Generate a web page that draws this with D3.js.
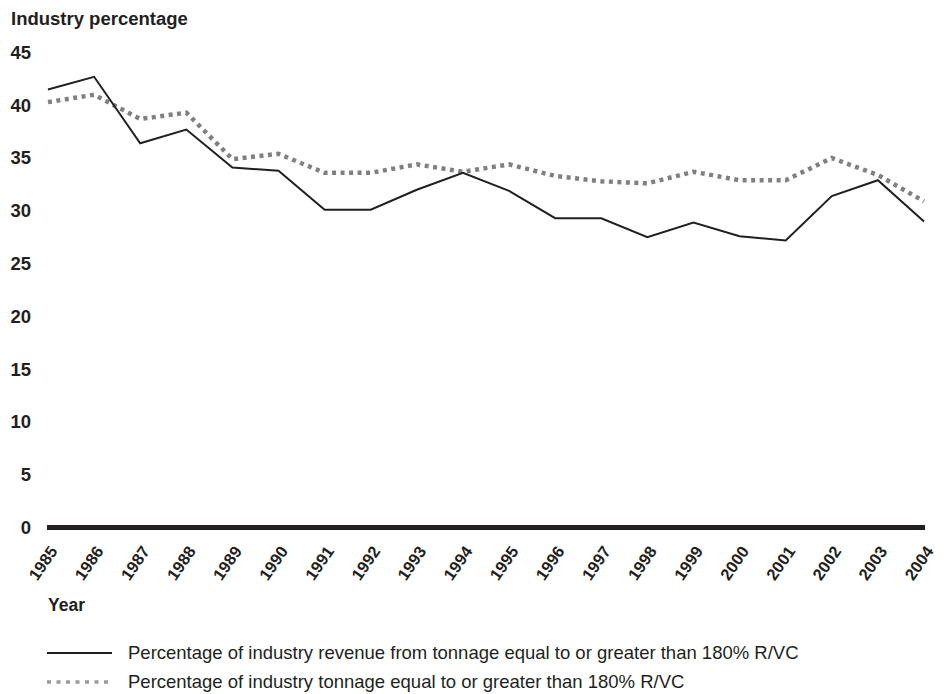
<!DOCTYPE html>
<html>
<head>
<meta charset="utf-8">
<script src="https://cdn.jsdelivr.net/npm/d3@7"></script>
<style>
  body { margin: 0; background: #fff; }
  svg text { font-family: "Liberation Sans", Arial, Helvetica, sans-serif; fill: #231f20; }
</style>
</head>
<body>
<div id="chart"></div>
<script>
// chart data
const years = ['1985', '1986', '1987', '1988', '1989', '1990', '1991', '1992', '1993', '1994',
  '1995', '1996', '1997', '1998', '1999', '2000', '2001', '2002', '2003', '2004'];
const revenueShare = [41.5, 42.7, 36.4, 37.7, 34.1, 33.8, 30.1, 30.1, 32.0, 33.6,
  31.9, 29.3, 29.3, 27.5, 28.9, 27.6, 27.2, 31.4, 32.9, 29.0];
const tonnageShare = [40.3, 41.0, 38.7, 39.3, 34.9, 35.4, 33.6, 33.6, 34.4, 33.7,
  34.4, 33.3, 32.8, 32.6, 33.7, 32.9, 32.9, 35.0, 33.4, 30.9];
const yTicks = [0, 5, 10, 15, 20, 25, 30, 35, 40, 45];
const legendLabels = [
  'Percentage of industry revenue from tonnage equal to or greater than 180% R/VC',
  'Percentage of industry tonnage equal to or greater than 180% R/VC'
];

const w = 948;
const h = 694;
const ink = '#231f20';

const svg = d3.select('#chart')
  .append('svg')
  .attr('width', w)
  .attr('height', h);

const x = d3.scalePoint()
  .domain(years)
  .range([48, 924]);

const y = d3.scaleLinear()
  .domain([0, 45])
  .range([527.5, 52.5]);

// y axis title
svg.append('text')
  .attr('x', 11)
  .attr('y', 25)
  .attr('font-size', '18.5px')
  .attr('font-weight', 'bold')
  .text('Industry percentage');

// y tick labels only, no axis line
const yAxis = svg.append('g')
  .attr('transform', 'translate(31,0)')
  .call(d3.axisLeft(y).tickValues(yTicks).tickSize(0).tickPadding(0));
yAxis.select('.domain').remove();
yAxis.selectAll('text')
  .attr('font-size', '18.5px')
  .attr('font-weight', 'bold')
  .attr('font-family', null)
  .attr('fill', ink);

// x tick labels, rotated
const xAxis = svg.append('g')
  .attr('transform', `translate(0,${y(0)})`)
  .call(d3.axisBottom(x).tickSize(0));
xAxis.select('.domain').remove();
xAxis.selectAll('text')
  .attr('x', 0)
  .attr('y', 0)
  .attr('dy', '0.35em')
  .attr('text-anchor', 'end')
  .attr('transform', 'translate(5,20.5) rotate(-55)')
  .attr('font-size', '16.5px')
  .attr('font-weight', 'bold')
  .attr('font-family', null)
  .attr('fill', ink);

// thick zero baseline
svg.append('line')
  .attr('x1', x(years[0]) - 1)
  .attr('x2', x(years[years.length - 1]) + 1)
  .attr('y1', y(0))
  .attr('y2', y(0))
  .attr('stroke', ink)
  .attr('stroke-width', 5);

svg.append('text')
  .attr('x', 48)
  .attr('y', 611)
  .attr('font-size', '17.5px')
  .attr('font-weight', 'bold')
  .text('Year');

const line = d3.line()
  .x((d, i) => x(years[i]))
  .y((d) => y(d));

svg.append('path')
  .datum(tonnageShare)
  .attr('d', line)
  .attr('fill', 'none')
  .attr('stroke', '#808083')
  .attr('stroke-width', 4.5)
  .attr('stroke-dasharray', '4,4.5');

svg.append('path')
  .datum(revenueShare)
  .attr('d', line)
  .attr('fill', 'none')
  .attr('stroke', ink)
  .attr('stroke-width', 2);

// legend
const legend = svg.append('g');
const legendY = [653, 682];

legend.append('line')
  .attr('x1', 47).attr('x2', 112)
  .attr('y1', legendY[0]).attr('y2', legendY[0])
  .attr('stroke', ink)
  .attr('stroke-width', 2);

legend.append('line')
  .attr('x1', 47).attr('x2', 110)
  .attr('y1', legendY[1]).attr('y2', legendY[1])
  .attr('stroke', '#9a9a9c')
  .attr('stroke-width', 3.5)
  .attr('stroke-dasharray', '4,5.5');

legend.selectAll('.labels')
  .data(legendLabels)
  .enter()
  .append('text')
  .attr('x', 128)
  .attr('y', (_, i) => legendY[i] + 6)
  .attr('font-size', '18.5px')
  .text((d) => d);
</script>
</body>
</html>
